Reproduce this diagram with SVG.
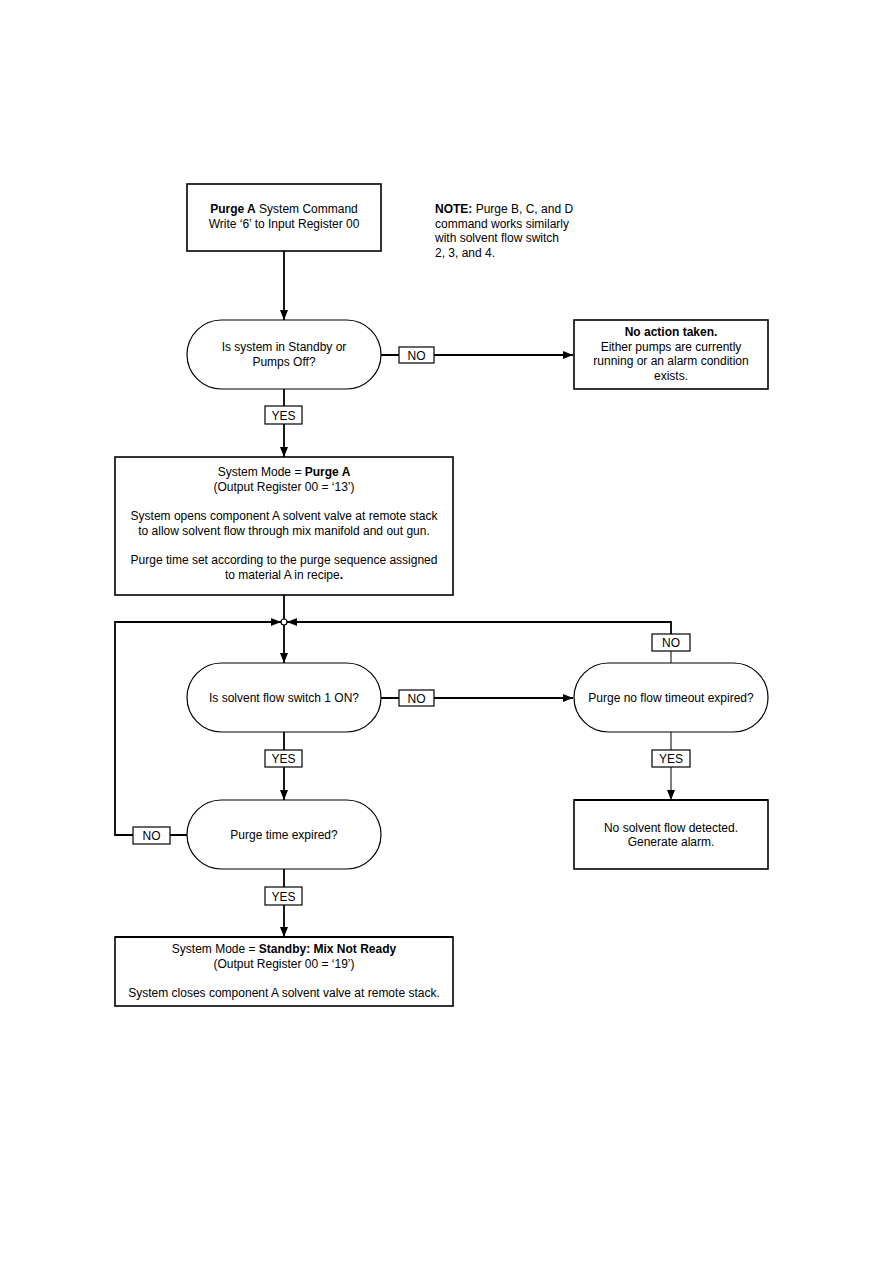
<svg xmlns="http://www.w3.org/2000/svg" width="893" height="1263" viewBox="0 0 893 1263">
<style>
text{font-family:"Liberation Sans",Arial,sans-serif;font-size:12px;fill:#000}
.c{text-anchor:middle}
.b{font-weight:bold}
.box{fill:#fff;stroke:#000;stroke-width:1.6}
.dec{fill:#fff;stroke:#000;stroke-width:1.2}
.lbl{fill:#fff;stroke:#000;stroke-width:1.2}
.ln{fill:none;stroke:#000;stroke-width:1.8}
.thin{fill:none;stroke:#000;stroke-width:1}
</style>
<defs>
<marker id="ah" viewBox="0 0 10 10" refX="10" refY="5" markerWidth="10" markerHeight="10" markerUnits="userSpaceOnUse" orient="auto">
<path d="M0,1 L10,5 L0,9 Z" fill="#000"/>
</marker>
</defs>
<rect width="893" height="1263" fill="#fff"/>
<g id="connectors">
<path class="ln" d="M284,251 V320" marker-end="url(#ah)"/>
<path class="ln" d="M381,355 H573" marker-end="url(#ah)"/>
<path class="ln" d="M284,389 V457" marker-end="url(#ah)"/>
<path class="ln" d="M284,595 V619"/>
<path class="ln" d="M284,625 V663" marker-end="url(#ah)"/>
<path class="ln" d="M187,835 H115 V622 H281" marker-end="url(#ah)"/>
<path class="ln" d="M671,634 V622 H287" marker-end="url(#ah)"/>
<path class="thin" d="M671,651 V663"/>
<circle cx="284" cy="622" r="3" fill="#fff" stroke="#000" stroke-width="1.2"/>
<path class="ln" d="M381,698 H573" marker-end="url(#ah)"/>
<path class="ln" d="M284,732 V800" marker-end="url(#ah)"/>
<path class="thin" d="M671,732 V800" marker-end="url(#ah)"/>
<path class="ln" d="M284,869 V937" marker-end="url(#ah)"/>
<rect class="lbl" x="399" y="347" width="35" height="16"/>
<text class="c" x="416.5" y="359.5">NO</text>
<rect class="lbl" x="265" y="406" width="37" height="18"/>
<text class="c" x="283.5" y="419.5">YES</text>
<rect class="lbl" x="652" y="634" width="38" height="17"/>
<text class="c" x="671" y="647">NO</text>
<rect class="lbl" x="399" y="690" width="35" height="16"/>
<text class="c" x="416.5" y="702.5">NO</text>
<rect class="lbl" x="265" y="750" width="37" height="17"/>
<text class="c" x="283.5" y="763">YES</text>
<rect class="lbl" x="652" y="750" width="38" height="17"/>
<text class="c" x="671" y="763">YES</text>
<rect class="lbl" x="133" y="827" width="37" height="17"/>
<text class="c" x="151.5" y="840">NO</text>
<rect class="lbl" x="265" y="887" width="37" height="18"/>
<text class="c" x="283.5" y="900.5">YES</text>
</g>
<g id="start">
<rect class="box" x="187" y="184" width="194" height="67" stroke-width="2"/>
<text class="c" x="284" y="213"><tspan class="b">Purge A</tspan> System Command</text>
<text class="c" x="284" y="228">Write ‘6’ to Input Register 00</text>
</g>
<g id="note">
<text x="435" y="213"><tspan class="b">NOTE:</tspan> Purge B, C, and D</text>
<text x="435" y="228">command works similarly</text>
<text x="435" y="242">with solvent flow switch</text>
<text x="435" y="257">2, 3, and 4.</text>
</g>
<g id="dec-standby">
<rect class="dec" x="187" y="320" width="194" height="69" rx="34.5" ry="34.5"/>
<text class="c" x="284" y="351">Is system in Standby or</text>
<text class="c" x="284" y="366">Pumps Off?</text>
</g>
<g id="no-action">
<rect class="box" x="574" y="320" width="194" height="69" stroke-width="1.2"/>
<text class="c b" x="671" y="336">No action taken.</text>
<text class="c" x="671" y="351">Either pumps are currently</text>
<text class="c" x="671" y="365">running or an alarm condition</text>
<text class="c" x="671" y="380">exists.</text>
</g>
<g id="purge-mode">
<rect class="box" x="115" y="457" width="338" height="138"/>
<text class="c" x="284" y="476">System Mode = <tspan class="b">Purge A</tspan></text>
<text class="c" x="284" y="491">(Output Register 00 = ‘13’)</text>
<text class="c" x="284" y="520">System opens component A solvent valve at remote stack</text>
<text class="c" x="284" y="535">to allow solvent flow through mix manifold and out gun.</text>
<text class="c" x="284" y="564">Purge time set according to the purge sequence assigned</text>
<text class="c" x="284" y="579">to material A in recipe<tspan class="b">.</tspan></text>
</g>
<g id="dec-flow">
<rect class="dec" x="187" y="663" width="194" height="69" rx="34.5" ry="34.5"/>
<text class="c" x="284" y="702">Is solvent flow switch 1 ON?</text>
</g>
<g id="dec-timeout">
<rect class="dec" x="574" y="663" width="194" height="69" rx="34.5" ry="34.5"/>
<text class="c" x="671" y="702">Purge no flow timeout expired?</text>
</g>
<g id="dec-purge-time">
<rect class="dec" x="187" y="800" width="194" height="69" rx="34.5" ry="34.5"/>
<text class="c" x="284" y="839">Purge time expired?</text>
</g>
<g id="alarm">
<rect class="box" x="574" y="800" width="194" height="69" stroke-width="1.2"/>
<path d="M574,800 H768" stroke="#000" stroke-width="2"/>
<text class="c" x="671" y="832">No solvent flow detected.</text>
<text class="c" x="671" y="846">Generate alarm.</text>
</g>
<g id="standby-mode">
<rect class="box" x="115" y="937" width="338" height="69" stroke-width="1.2"/>
<path d="M115,937 H453" stroke="#000" stroke-width="2"/>
<text class="c" x="284" y="953">System Mode = <tspan class="b">Standby: Mix Not Ready</tspan></text>
<text class="c" x="284" y="968">(Output Register 00 = ‘19’)</text>
<text class="c" x="284" y="997">System closes component A solvent valve at remote stack.</text>
</g>
</svg>
